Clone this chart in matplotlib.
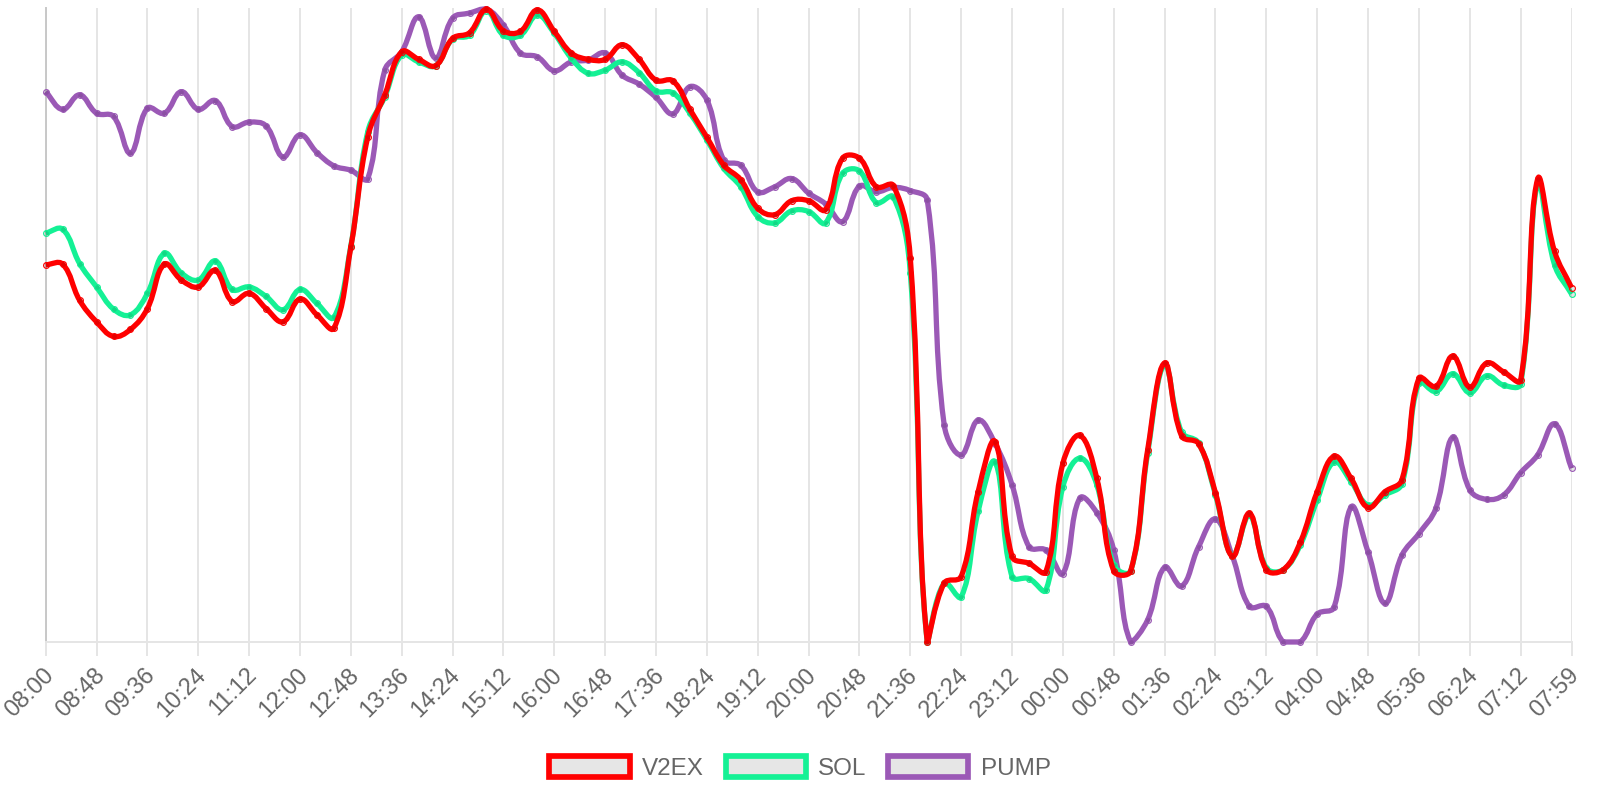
import numpy as np
import matplotlib
matplotlib.use("Agg")
import matplotlib.pyplot as plt
from matplotlib.path import Path
from matplotlib.patches import PathPatch, Rectangle
from matplotlib.transforms import ScaledTranslation

# one point every 16 minutes, 08:00 -> 07:59 next day (91 points)
tick_labels = ["08:00", "08:48", "09:36", "10:24", "11:12", "12:00", "12:48", "13:36",
               "14:24", "15:12", "16:00", "16:48", "17:36", "18:24", "19:12", "20:00",
               "20:48", "21:36", "22:24", "23:12", "00:00", "00:48", "01:36", "02:24",
               "03:12", "04:00", "04:48", "05:36", "06:24", "07:12", "07:59"]

v2ex = [59.5, 59.6, 53.9, 50.5, 48.2, 49.3, 52.6, 59.6, 57.1, 56.0,
        58.6, 53.7, 55.0, 52.6, 50.5, 54.1, 51.6, 49.5, 62.3, 79.7,
        86.3, 93.1, 91.9, 90.9, 95.2, 96.1, 99.8, 96.4, 96.3, 99.7,
        96.3, 92.9, 91.9, 91.9, 94.2, 91.9, 88.6, 88.5, 84.0, 79.6,
        75.2, 72.9, 68.4, 67.4, 69.6, 69.6, 68.2, 76.3, 76.3, 71.8,
        72.0, 60.5, 0.0, 9.3, 10.3, 23.7, 31.6, 13.5, 12.4, 11.1,
        28.2, 32.6, 25.8, 11.2, 11.2, 30.3, 44.0, 32.5, 31.3, 23.5,
        13.5, 20.3, 11.4, 11.4, 15.7, 23.7, 29.3, 25.8, 21.2, 23.7,
        25.6, 41.6, 40.3, 45.1, 40.2, 44.0, 42.6, 41.3, 73.0, 61.6,
        55.9]

sol = [64.5, 65.1, 59.7, 56.0, 52.5, 51.6, 55.0, 61.3, 58.2, 57.1,
       60.1, 55.6, 56.0, 54.5, 52.4, 55.6, 53.4, 51.2, 62.5, 80.5,
       86.0, 92.6, 91.5, 90.9, 95.1, 95.7, 99.6, 95.7, 95.7, 98.9,
       96.0, 92.1, 89.7, 90.2, 91.5, 89.8, 86.9, 86.6, 83.4, 79.2,
       74.7, 71.8, 67.1, 66.1, 68.0, 67.9, 66.1, 73.9, 74.3, 69.3,
       70.2, 58.2, 0.0, 9.3, 7.1, 20.6, 28.4, 10.3, 10.0, 8.2,
       24.5, 29.0, 24.8, 12.1, 11.2, 29.8, 43.7, 33.1, 31.4, 23.2,
       13.6, 20.0, 11.7, 11.4, 15.3, 22.4, 28.4, 25.3, 21.6, 23.2,
       25.0, 40.9, 39.5, 42.3, 39.3, 42.0, 40.5, 40.7, 72.3, 59.5,
       54.9]

pump = [86.8, 84.0, 86.3, 83.4, 82.9, 77.1, 84.2, 83.4, 86.8, 84.0,
        85.4, 81.3, 82.0, 81.4, 76.5, 80.0, 77.2, 75.1, 74.4, 73.1,
        90.2, 93.1, 98.6, 92.1, 98.4, 99.2, 99.8, 97.3, 92.9, 92.3,
        90.1, 91.5, 91.8, 92.9, 89.4, 88.0, 85.9, 83.3, 87.6, 85.5,
        76.0, 75.2, 71.0, 71.8, 73.1, 70.8, 69.1, 66.3, 71.9, 71.0,
        71.7, 71.2, 69.7, 34.2, 29.5, 35.0, 31.3, 24.8, 15.0, 14.5,
        10.8, 22.7, 20.4, 14.5, 0.0, 3.5, 11.8, 8.8, 15.0, 19.4,
        13.5, 5.6, 5.6, 0.0, 0.0, 4.4, 5.5, 21.3, 14.2, 6.1,
        13.7, 17.1, 21.1, 32.3, 24.0, 22.5, 23.2, 26.7, 29.5, 34.4,
        27.4]

series_names = ["V2EX", "SOL", "PUMP"]
series_values = [v2ex, sol, pump]
series_colors = ["#ff0000", "#14f195", "#9b59b6"]

plt.rcParams["font.family"] = ["Liberation Sans", "DejaVu Sans"]


def spline_path(ax, xs, ys, tension=0.4):
    # cubic bezier through the points, control points like a tension spline,
    # computed in pixel space and kept inside the plot area
    pts = ax.transData.transform(np.column_stack([xs, ys]))
    box = ax.bbox
    n = len(pts)
    c_prev = np.zeros_like(pts)
    c_next = np.zeros_like(pts)
    for i in range(n):
        prev = pts[i - 1] if i > 0 else pts[i]
        cur = pts[i]
        nxt = pts[i + 1] if i < n - 1 else pts[i]
        d01 = np.hypot(*(cur - prev))
        d12 = np.hypot(*(nxt - cur))
        tot = d01 + d12
        s01 = d01 / tot if tot else 0.0
        s12 = d12 / tot if tot else 0.0
        c_prev[i] = cur - tension * s01 * (nxt - prev)
        c_next[i] = cur + tension * s12 * (nxt - prev)
    for c in (c_prev, c_next):
        c[:, 0] = np.clip(c[:, 0], box.x0, box.x1)
        c[:, 1] = np.clip(c[:, 1], box.y0, box.y1)
    verts = [pts[0]]
    codes = [Path.MOVETO]
    for i in range(n - 1):
        verts += [c_next[i], c_prev[i + 1], pts[i + 1]]
        codes += [Path.CURVE4] * 3
    verts = ax.transData.inverted().transform(np.array(verts))
    return Path(verts, codes)


fig = plt.figure(figsize=(16, 8), dpi=100)
ax = fig.add_axes([45.7 / 1600, 1 - 642 / 800, 1525.8 / 1600, 634 / 800])
ax.set_xlim(0, len(v2ex) - 1)
ax.set_ylim(0, 100)

x = np.arange(len(v2ex))
# last dataset at the bottom, first on top
for k in range(len(series_names) - 1, -1, -1):
    vals = series_values[k]
    col = series_colors[k]
    z = 10 - k
    path = spline_path(ax, x, vals)
    ax.add_patch(PathPatch(path, fill=False, edgecolor=col, lw=3.8,
                           capstyle="butt", joinstyle="round", zorder=z, clip_on=False))
    ax.plot(x, vals, linestyle="none", marker="o", ms=4.2, mfc=(0, 0, 0, 0.1),
            mec=col, mew=0.8, zorder=z + 0.5, clip_on=False)

ax.set_xticks(np.arange(0, len(v2ex), 3))
ax.set_xticklabels(tick_labels, rotation=45, ha="right", va="center_baseline",
                   rotation_mode="anchor", color="#666666", fontsize=17)
ax.tick_params(axis="x", length=10, width=1.4, color="#e5e5e5", pad=10)
shift = ScaledTranslation(2 / 72, 0, fig.dpi_scale_trans)
for lab in ax.get_xticklabels():
    lab.set_transform(lab.get_transform() + shift)
ax.set_yticks([])
ax.grid(axis="x", color="#e5e5e5", lw=1.4)
ax.set_axisbelow(True)
for side in ("top", "right"):
    ax.spines[side].set_visible(False)
ax.spines["left"].set_color("#c8c8c8")
ax.spines["left"].set_linewidth(1.4)
ax.spines["bottom"].set_color("#e5e5e5")
ax.spines["bottom"].set_linewidth(1.4)

handles = [Rectangle((0, 0), 1, 1, facecolor="#e6e6e6", edgecolor=c, lw=4.1)
           for c in series_colors]
fig.legend(handles, series_names, loc="center", bbox_to_anchor=(0.5, 1 - 768 / 800),
           ncol=3, frameon=False, fontsize=17.5, labelcolor="#666666",
           handlelength=3.3, handleheight=0.98, handletextpad=0.5, columnspacing=0.9)

fig.savefig("out.png", dpi=100)
